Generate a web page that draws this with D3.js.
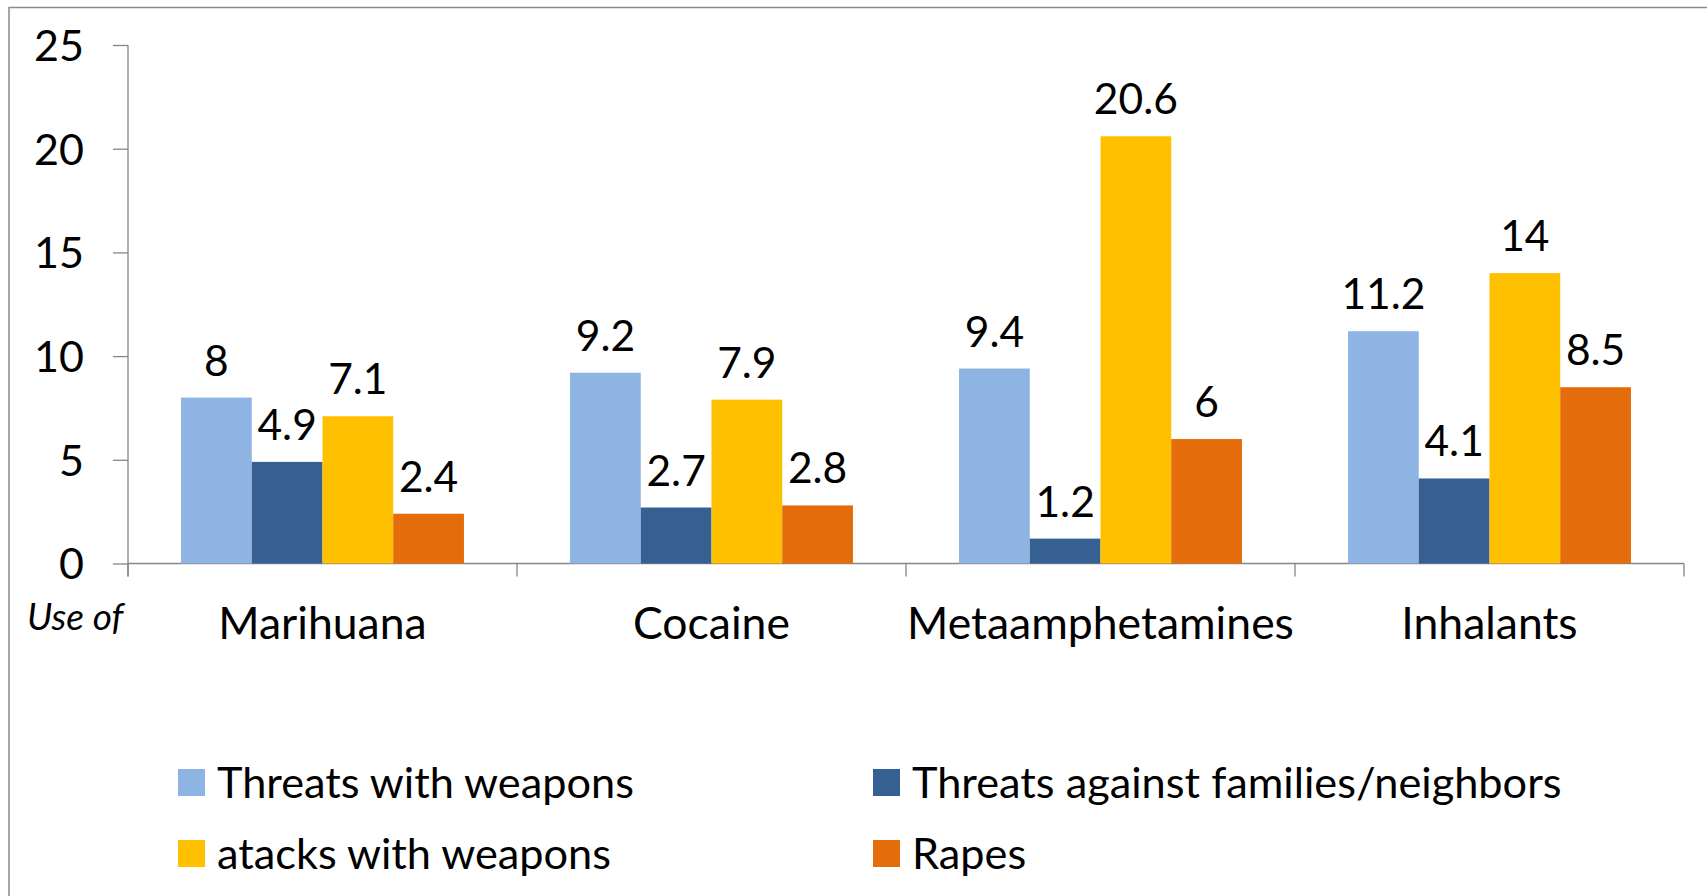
<!DOCTYPE html>
<html>
<head>
<meta charset="utf-8">
<script src="https://cdn.jsdelivr.net/npm/d3@7"></script>
<style>
  html, body { margin: 0; padding: 0; background: #fff; }
  svg { display: block; }
  text { font-family: Lato, "Open Sans", sans-serif; fill: #000; }
</style>
</head>
<body>
<svg id="chart" width="1707" height="896"></svg>
<script>
// Drug use categories and the four outcome series (%)
const categories = ["Marihuana", "Cocaine", "Metaamphetamines", "Inhalants"];
const threatsWithWeapons = [8, 9.2, 9.4, 11.2];
const threatsAgainstFamilies = [4.9, 2.7, 1.2, 4.1];
const attacksWithWeapons = [7.1, 7.9, 20.6, 14];
const rapes = [2.4, 2.8, 6, 8.5];
const yTicks = [0, 5, 10, 15, 20, 25];

const seriesNames = ["Threats with weapons", "Threats against families/neighbors", "atacks with weapons", "Rapes"];
const seriesColors = ["#8EB4E3", "#376092", "#FFC000", "#E46C0A"];
const seriesValues = [threatsWithWeapons, threatsAgainstFamilies, attacksWithWeapons, rapes];

const svg = d3.select("#chart");
const axisColor = "#868686";

// Outer chart frame
svg.append("rect")
  .attr("x", 9).attr("y", 7.5)
  .attr("width", 1720).attr("height", 900)
  .attr("fill", "none").attr("stroke", "#8a8a8a").attr("stroke-width", 1.5);

const plot = { left: 128, right: 1684, top: 45, bottom: 563.5 };

const x0 = d3.scaleBand().domain(categories).range([plot.left, plot.right]).padding(0);
const bw = x0.bandwidth();
const gap = bw * 1.5 / 5.5; // 150% gap width between clusters
const x1 = d3.scaleBand().domain(d3.range(seriesNames.length)).range([gap / 2, bw - gap / 2]).padding(0);
const y = d3.scaleLinear().domain([0, 25]).range([plot.bottom, plot.top]);

// Y axis
const yAxis = d3.axisLeft(y).tickValues(yTicks).tickSize(15).tickPadding(29);
const gy = svg.append("g").attr("transform", `translate(${plot.left},0)`).call(yAxis);
gy.select(".domain").remove();
gy.selectAll(".tick line").attr("stroke", axisColor).attr("stroke-width", 1.3);
gy.selectAll(".tick text")
  .attr("font-size", 43).attr("font-family", "Lato").attr("fill", "#000")
  .attr("dy", "0.36em");
svg.append("line")
  .attr("x1", plot.left).attr("x2", plot.left)
  .attr("y1", plot.top).attr("y2", plot.bottom + 13)
  .attr("stroke", axisColor).attr("stroke-width", 1.3);

// X axis baseline with category separators
svg.append("line")
  .attr("x1", plot.left).attr("x2", plot.right)
  .attr("y1", plot.bottom).attr("y2", plot.bottom)
  .attr("stroke", axisColor).attr("stroke-width", 1.3);
const seps = categories.map(c => x0(c)).concat([plot.right]);
svg.append("g").selectAll("line").data(seps).join("line")
  .attr("x1", d => d).attr("x2", d => d)
  .attr("y1", plot.bottom).attr("y2", plot.bottom + 13)
  .attr("stroke", axisColor).attr("stroke-width", 1.3);

// Category labels
svg.append("g").selectAll("text").data(categories).join("text")
  .attr("x", d => x0(d) + bw / 2)
  .attr("y", 639)
  .attr("text-anchor", "middle")
  .attr("font-size", 44.5)
  .text(d => d);

svg.append("text")
  .attr("x", 27).attr("y", 630)
  .attr("font-size", 37).attr("font-style", "italic")
  .text("Use of");

// Bars and value labels
const rows = [];
categories.forEach((c, ci) => {
  seriesValues.forEach((vals, si) => rows.push({ c, si, v: vals[ci] }));
});

const bars = svg.append("g");
bars.selectAll("rect").data(rows).join("rect")
  .attr("x", d => x0(d.c) + x1(d.si))
  .attr("y", d => y(d.v))
  .attr("width", x1.bandwidth())
  .attr("height", d => y(0) - y(d.v))
  .attr("fill", d => seriesColors[d.si]);

svg.append("g").selectAll("text").data(rows).join("text")
  .attr("x", d => x0(d.c) + x1(d.si) + x1.bandwidth() / 2)
  .attr("y", d => y(d.v) - 22)
  .attr("text-anchor", "middle")
  .attr("font-size", 42.5)
  .text(d => d3.format("~g")(d.v));

// Legend, two columns by two rows
const legendCols = [178, 873];
const legendRows = [769, 840];
const legend = svg.append("g");
seriesNames.forEach((name, i) => {
  const lx = legendCols[i % 2];
  const ly = legendRows[Math.floor(i / 2)];
  legend.append("rect")
    .attr("x", lx).attr("y", ly).attr("width", 27).attr("height", 27)
    .attr("fill", seriesColors[i]);
  legend.append("text")
    .attr("x", lx + 39).attr("y", ly + 28.5)
    .attr("font-size", 43.3)
    .text(name);
});
</script>
</body>
</html>
